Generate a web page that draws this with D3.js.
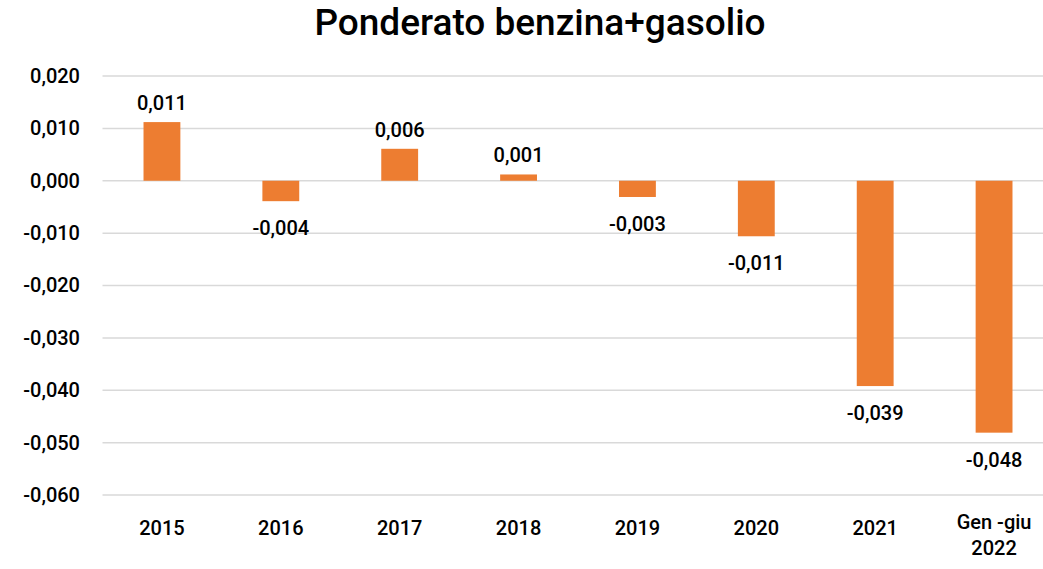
<!DOCTYPE html>
<html>
<head>
<meta charset="utf-8">
<script src="https://cdn.jsdelivr.net/npm/d3@7"></script>
<style>
  body { margin: 0; background: #fff; }
  text { font-family: Roboto, "DejaVu Sans", sans-serif; fill: #000; }
</style>
</head>
<body>
<div id="chart"></div>
<script>
// Chart data
const categories = ['2015', '2016', '2017', '2018', '2019', '2020', '2021', 'Gen -giu\n2022'];
const values = [0.0112, -0.0039, 0.0061, 0.0012, -0.0031, -0.0106, -0.0392, -0.0481];
const valueLabels = ['0,011', '-0,004', '0,006', '0,001', '-0,003', '-0,011', '-0,039', '-0,048'];
const yTicks = [0.02, 0.01, 0, -0.01, -0.02, -0.03, -0.04, -0.05, -0.06];

const width = 1043, height = 569;

const svg = d3.select('#chart')
  .append('svg')
  .attr('width', width)
  .attr('height', height);

// Scales
const x = d3.scaleBand()
  .domain(categories)
  .range([102.5, 1053.5])
  .paddingInner(0.69)
  .paddingOuter(0.345);

const y = d3.scaleLinear()
  .domain([-0.06, 0.02])
  .range([495, 76]);

const fmt = v => d3.format('.3f')(v).replace('.', ',').replace('−', '-');

// Gridlines
svg.append('g')
  .selectAll('line')
  .data(yTicks)
  .enter()
  .append('line')
  .attr('x1', 102.5)
  .attr('x2', 1053.5)
  .attr('y1', d => y(d))
  .attr('y2', d => y(d))
  .attr('stroke', '#d9d9d9')
  .attr('stroke-width', 1.5);

// Y axis labels
const yAxis = svg.append('g')
  .attr('transform', 'translate(80,0)')
  .call(d3.axisLeft(y).tickValues(yTicks).tickSize(0).tickPadding(0).tickFormat(fmt));
yAxis.select('.domain').remove();
yAxis.selectAll('text')
  .style('font-family', 'Roboto, sans-serif')
  .style('font-size', '20px')
  .style('font-weight', 500)
  .attr('fill', '#000');

// Bars
svg.append('g')
  .selectAll('rect')
  .data(values)
  .enter()
  .append('rect')
  .attr('x', (d, i) => x(categories[i]))
  .attr('width', x.bandwidth())
  .attr('y', d => y(Math.max(0, d)))
  .attr('height', d => Math.abs(y(d) - y(0)))
  .attr('fill', '#ED7D31');

// Value labels
svg.append('g')
  .selectAll('text')
  .data(values)
  .enter()
  .append('text')
  .attr('x', (d, i) => x(categories[i]) + x.bandwidth() / 2)
  .attr('y', d => d >= 0 ? y(d) - 12 : y(d) + 34)
  .attr('text-anchor', 'middle')
  .style('font-size', '20px')
  .style('font-weight', 500)
  .text((d, i) => valueLabels[i]);

// X axis labels
const xLabels = svg.append('g')
  .selectAll('text')
  .data(categories)
  .enter()
  .append('text')
  .attr('x', d => x(d) + x.bandwidth() / 2)
  .attr('y', d => d.includes('\n') ? 529 : 535)
  .attr('text-anchor', 'middle')
  .style('font-size', '20px')
  .style('font-weight', 500);

xLabels.each(function (d) {
  const parts = d.split('\n');
  const t = d3.select(this);
  parts.forEach((p, i) => {
    t.append('tspan')
      .attr('x', t.attr('x'))
      .attr('dy', i === 0 ? 0 : 26)
      .text(p);
  });
});

// Title
svg.append('text')
  .attr('x', 540)
  .attr('y', 35)
  .attr('text-anchor', 'middle')
  .style('font-size', '37px')
  .style('font-weight', 500)
  .text('Ponderato benzina+gasolio');
</script>
</body>
</html>
